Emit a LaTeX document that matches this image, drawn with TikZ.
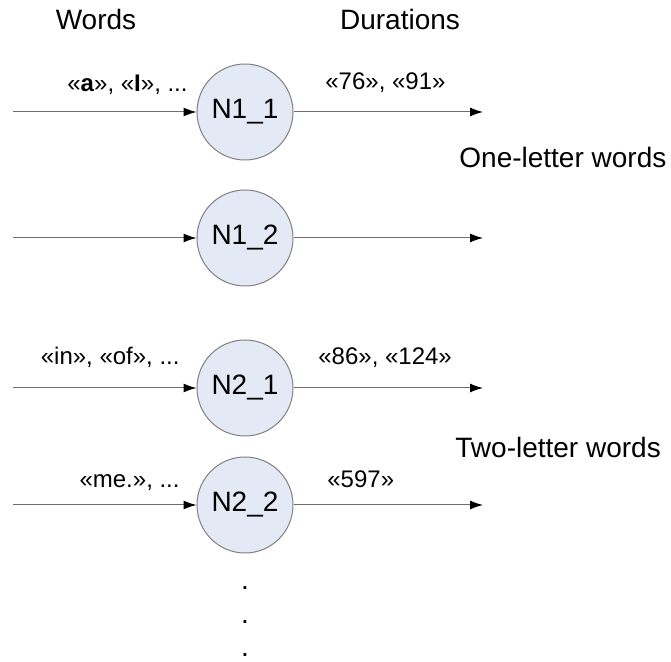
\documentclass[tikz,border=0pt]{standalone}
\usepackage{fontspec}
\setmainfont{Liberation Sans}
\usepackage{xcolor}
\usepackage{tikz}
\usetikzlibrary{arrows.meta}
\definecolor{cellblue}{RGB}{228,234,245}
\definecolor{edgegray}{RGB}{110,110,110}

\begin{document}
\begin{tikzpicture}[x=0.5pt,y=-0.5pt]
	\tikzstyle{neuron}=[circle,draw=gray,fill=cellblue,line width=0.5pt,minimum size=48pt,inner sep=0pt,font=\fontsize{14}{16}\selectfont]
	\tikzstyle{title}=[inner sep=0pt,font=\fontsize{14}{16}\selectfont]
	\tikzstyle{wordlab}=[inner sep=0pt,anchor=base east,font=\fontsize{12}{14}\selectfont]
	\tikzstyle{durlab}=[inner sep=0pt,anchor=base west,font=\fontsize{12}{14}\selectfont]
	\tikzstyle{signal}=[draw=edgegray,line width=0.5pt,-{Latex[color=black,length=6.5pt,width=4.5pt]}]
	\useasboundingbox (0,0) rectangle (671,662);
	% column titles
	\node[title,anchor=base] (words) at (96,30) {Words};
	\node[title,anchor=base] (durations) at (400,30) {Durations};
	% neurons
	\node[neuron] (N11) at (245,112) {N1\_1};
	\node[neuron] (N12) at (245,238) {N1\_2};
	\node[neuron] (N21) at (245,388) {N2\_1};
	\node[neuron] (N22) at (245,505) {N2\_2};
	% free ends
	\coordinate (in11) at (13,112);
	\coordinate (in12) at (13,238);
	\coordinate (in21) at (13,388);
	\coordinate (in22) at (13,505);
	\coordinate (out11) at (483,112);
	\coordinate (out12) at (483,238);
	\coordinate (out21) at (483,388);
	\coordinate (out22) at (483,505);
	\path
		(in11) edge[signal] (N11)
		(in12) edge[signal] (N12)
		(in21) edge[signal] (N21)
		(in22) edge[signal] (N22)
		(N11) edge[signal] (out11)
		(N12) edge[signal] (out12)
		(N21) edge[signal] (out21)
		(N22) edge[signal] (out22);
	% labels
	\node[wordlab] (w11) at (188,92) {«\textbf{a}», «\textbf{I}», ...};
	\node[wordlab] (w21) at (180,365) {«in», «of», ...};
	\node[wordlab] (w22) at (180,488) {«me.», ...};
	\node[durlab] (d11) at (325,90) {«76», «91»};
	\node[durlab] (d21) at (318,365) {«86», «124»};
	\node[durlab] (d22) at (327,488) {«597»};
	\node[title,anchor=base west] (one) at (459,168) {One-letter words};
	\node[title,anchor=base west] (two) at (455,458) {Two-letter words};
	% more neurons
	\node[title,anchor=base] (dot1) at (245,590) {.};
	\node[title,anchor=base] (dot2) at (245,624) {.};
	\node[title,anchor=base] (dot3) at (245,657) {.};
\end{tikzpicture}
\end{document}
